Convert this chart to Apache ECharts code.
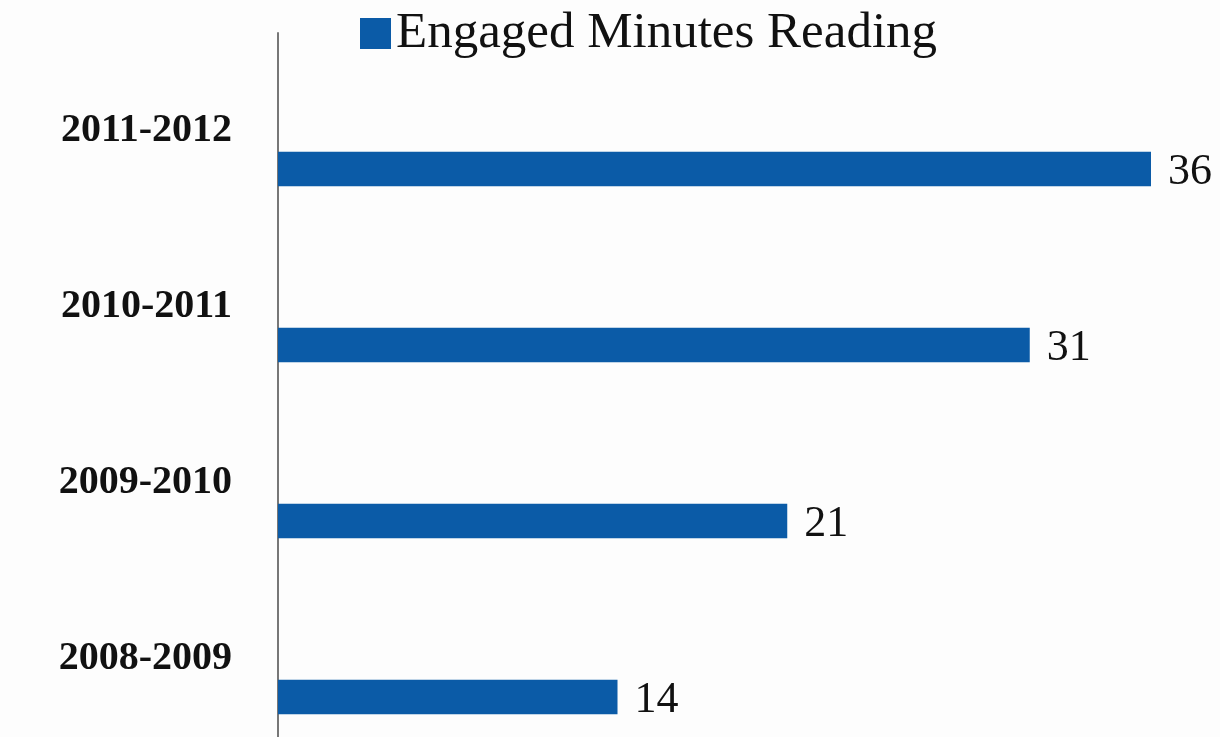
<!DOCTYPE html>
<html>
<head>
<meta charset="utf-8">
<script src="https://cdn.jsdelivr.net/npm/echarts@6/dist/echarts.min.js"></script>
<style>
html,body{margin:0;padding:0;background:#fdfdfd;}
#chart{width:1220px;height:737px;}
</style>
</head>
<body>
<div id="chart"></div>
<script>
const categories = ['2008-2009', '2009-2010', '2010-2011', '2011-2012'];
const seriesName = 'Engaged Minutes Reading';
const values = [14, 21, 31, 36];
const spacerValues = [null, null, null, null];

const chart = echarts.init(document.getElementById('chart'));
chart.setOption({
  backgroundColor: '#fdfdfd',
  animation: false,
  legend: {
    data: [seriesName],
    left: 355,
    top: 3,
    itemWidth: 31,
    itemHeight: 31,
    itemGap: 10,
    icon: 'rect',
    textStyle: {fontFamily: 'Liberation Serif', fontSize: 51, color: '#111'}
  },
  grid: {left: 278, width: 921.5, top: 33, height: 704, containLabel: false},
  xAxis: {
    type: 'value',
    min: 0,
    max: 38,
    show: false
  },
  yAxis: {
    type: 'category',
    data: categories,
    axisLine: {show: true, lineStyle: {color: '#777', width: 2}},
    axisTick: {show: false},
    axisLabel: {
      margin: 46,
      formatter: '{v|{value}}',
      rich: {
        v: {
          padding: [20, 0, 0, 0],
          fontFamily: 'Liberation Serif',
          fontWeight: 'bold',
          fontSize: 40,
          color: '#111'
        }
      }
    },
    splitLine: {show: false}
  },
  series: [
    {
      name: 'spacer',
      type: 'bar',
      data: spacerValues,
      barWidth: 34.5,
      barGap: '178%',
      itemStyle: {color: 'transparent'}
    },
    {
      name: seriesName,
      type: 'bar',
      data: values,
      barWidth: 34.5,
      barGap: '178%',
      itemStyle: {color: '#0B5BA7'},
      label: {
        show: true,
        position: 'right',
        distance: 17,
        offset: [0, 3],
        fontFamily: 'Liberation Serif',
        fontSize: 44,
        color: '#111'
      }
    }
  ]
});
</script>
</body>
</html>
